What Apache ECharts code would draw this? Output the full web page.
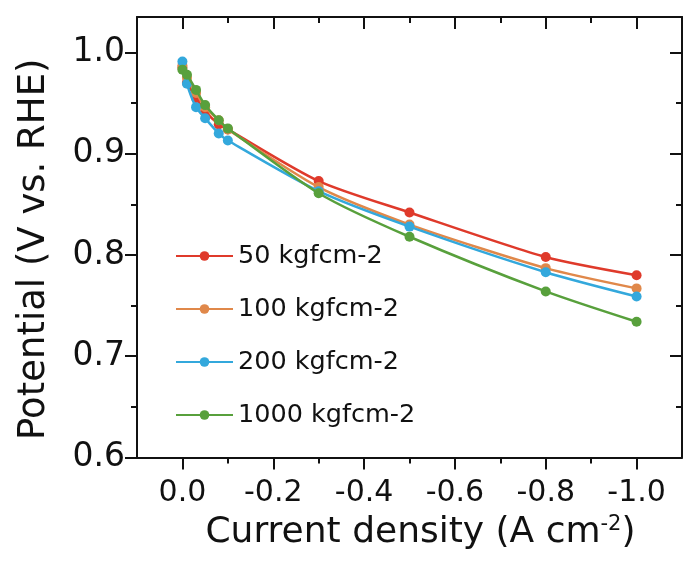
<!DOCTYPE html>
<html>
<head>
<meta charset="utf-8">
<script src="https://cdn.jsdelivr.net/npm/echarts@6/dist/echarts.min.js"></script>
<style>
  html, body { margin: 0; padding: 0; background: #fff; }
  #chart { width: 683px; height: 564px; }
</style>
</head>
<body>
<div id="chart"></div>
<script>
// Polarization data: cell potential vs. current density for four pressing pressures
const currentDensity = [0, -0.01, -0.03, -0.05, -0.08, -0.1, -0.3, -0.5, -0.8, -1.0];
const seriesNames = ['50 kgfcm-2', '100 kgfcm-2', '200 kgfcm-2', '1000 kgfcm-2'];
const potential50 = [0.985, 0.970, 0.955, 0.942, 0.929, 0.924, 0.873, 0.842, 0.798, 0.780];
const potential100 = [0.987, 0.975, 0.960, 0.946, 0.933, 0.924, 0.867, 0.830, 0.787, 0.767];
const potential200 = [0.991, 0.969, 0.946, 0.935, 0.920, 0.913, 0.863, 0.828, 0.783, 0.759];
const potential1000 = [0.983, 0.978, 0.963, 0.948, 0.933, 0.925, 0.861, 0.818, 0.764, 0.734];
const seriesColors = ['#df3a2b', '#e0884a', '#33a8dc', '#58a03c'];

// Axis tick positions
const xMajor = [0, -0.2, -0.4, -0.6, -0.8, -1.0];
const xMinor = [-0.1, -0.3, -0.5, -0.7, -0.9];
const yMajor = [0.6, 0.7, 0.8, 0.9, 1.0];
const yMinor = [0.65, 0.75, 0.85, 0.95];

const FONT = 'DejaVu Sans';
const INK = '#111';

const allPotentials = [potential50, potential100, potential200, potential1000];

function pairs(ys) {
  return currentDensity.map((x, i) => [x, ys[i]]);
}

function tickStyle() {
  return { color: INK, width: 2 };
}

function xAxisDef(opts) {
  return Object.assign({
    type: 'value', inverse: true, min: -1.1, max: 0.1,
    splitLine: { show: false },
    axisLine: { show: false, onZero: false, lineStyle: tickStyle() },
    axisLabel: { show: false }
  }, opts);
}
function yAxisDef(opts) {
  return Object.assign({
    type: 'value', min: 0.6, max: 1.035,
    splitLine: { show: false },
    axisLine: { show: false, onZero: false, lineStyle: tickStyle() },
    axisLabel: { show: false }
  }, opts);
}

const chart = echarts.init(document.getElementById('chart'), null, { renderer: 'canvas' });

chart.setOption({
  animation: false,
  backgroundColor: '#fff',
  grid: { left: 137, right: 1, top: 17, bottom: 106.5, containLabel: false },
  legend: {
    orient: 'vertical',
    left: 170,
    top: 238,
    itemWidth: 57,
    itemHeight: 12,
    itemGap: 27,
    textStyle: { fontFamily: FONT, fontSize: 25.5, color: INK, lineHeight: 26 },
    data: seriesNames
  },
  xAxis: [
    xAxisDef({
      position: 'bottom',
      axisLine: { show: true, onZero: false, lineStyle: tickStyle() },
      axisTick: { show: true, length: 12, customValues: xMajor, lineStyle: tickStyle() },
      axisLabel: {
        show: true, customValues: xMajor, margin: 21,
        fontFamily: FONT, fontSize: 30, color: INK,
        formatter: v => Number(v).toFixed(1)
      },
      name: 'Current density (A cm{sup|-2})',
      nameLocation: 'middle',
      nameGap: 57,
      nameTextStyle: {
        fontFamily: FONT, fontSize: 36, color: INK,
        padding: [0, 0, 0, 22],
        rich: { sup: { fontFamily: FONT, fontSize: 21, color: INK, verticalAlign: 'top', padding: [0, 0, 14, 0] } }
      }
    }),
    xAxisDef({ position: 'bottom', axisTick: { show: true, length: 6, customValues: xMinor, lineStyle: tickStyle() } }),
    xAxisDef({
      position: 'top',
      axisLine: { show: true, onZero: false, lineStyle: tickStyle() },
      axisTick: { show: true, inside: true, length: 12, customValues: xMajor, lineStyle: tickStyle() }
    }),
    xAxisDef({ position: 'top', axisTick: { show: true, inside: true, length: 6, customValues: xMinor, lineStyle: tickStyle() } })
  ],
  yAxis: [
    yAxisDef({
      position: 'left',
      axisLine: { show: true, onZero: false, lineStyle: tickStyle() },
      axisTick: { show: true, length: 12, customValues: yMajor, lineStyle: tickStyle() },
      axisLabel: {
        show: true, customValues: yMajor, margin: 12,
        fontFamily: FONT, fontSize: 33, color: INK,
        formatter: v => Number(v).toFixed(1)
      },
      name: 'Potential (V vs. RHE)',
      nameLocation: 'middle',
      nameGap: 84,
      nameTextStyle: { fontFamily: FONT, fontSize: 37, color: INK, padding: [0, 24, 0, 0] }
    }),
    yAxisDef({ position: 'left', axisTick: { show: true, length: 6, customValues: yMinor, lineStyle: tickStyle() } }),
    yAxisDef({
      position: 'right',
      axisLine: { show: true, onZero: false, lineStyle: tickStyle() },
      axisTick: { show: true, inside: true, length: 12, customValues: yMajor, lineStyle: tickStyle() }
    }),
    yAxisDef({ position: 'right', axisTick: { show: true, inside: true, length: 6, customValues: yMinor, lineStyle: tickStyle() } })
  ],
  series: seriesNames.map((name, i) => ({
    name: name,
    type: 'line',
    xAxisIndex: 0,
    yAxisIndex: 0,
    data: pairs(allPotentials[i]),
    smooth: 0.25,
    symbol: 'circle',
    symbolSize: 10,
    lineStyle: { color: seriesColors[i], width: 2.5 },
    itemStyle: { color: seriesColors[i] },
    z: 2 + i
  }))
});
</script>
</body>
</html>
